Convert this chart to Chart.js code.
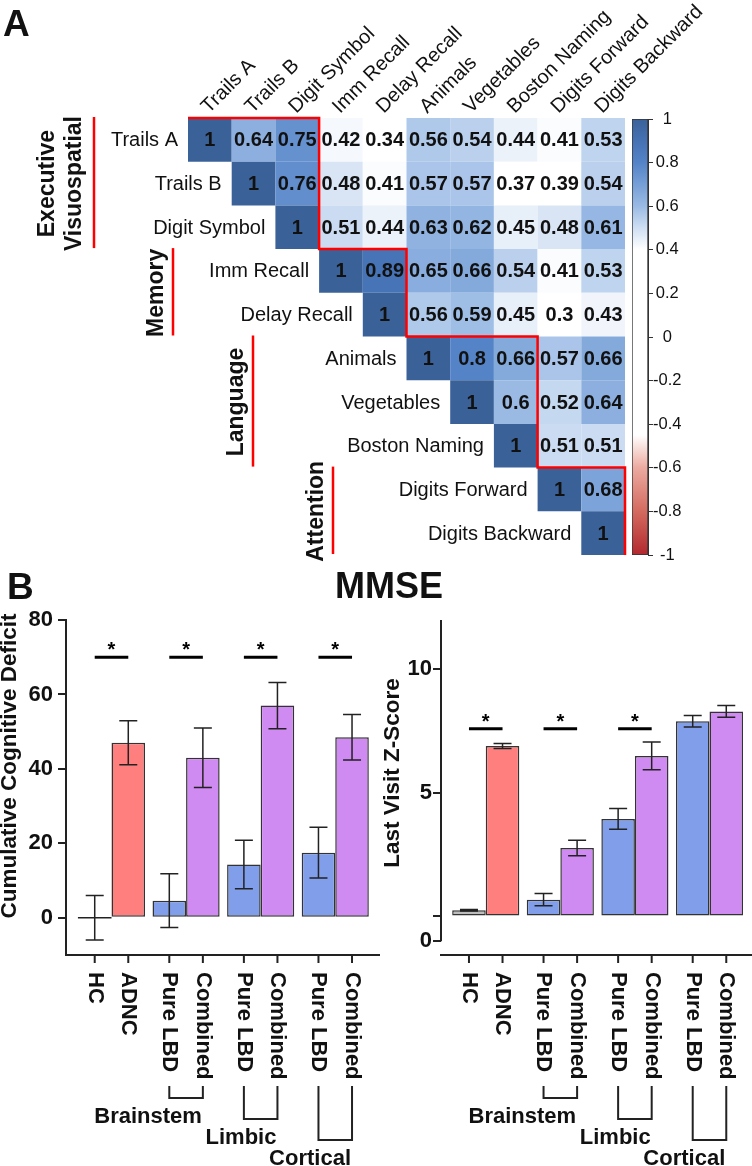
<!DOCTYPE html>
<html>
<head>
<meta charset="utf-8">
<script src="https://cdn.jsdelivr.net/npm/chart.js@4.4.0/dist/chart.umd.min.js"></script>
<style>
  body { margin: 0; background: #fff; }
  #fig { position: relative; width: 752px; height: 1166px; overflow: hidden; font-family: "Liberation Sans", Arial, sans-serif; }
  canvas { position: absolute; }
  .lab { position: absolute; font-weight: bold; line-height: 1; color: #111; white-space: nowrap; }
</style>
</head>
<body>
<div id="fig">
  <canvas id="heat" width="752" height="575" style="left:0;top:0"></canvas>
  <canvas id="cbar" width="126" height="475" style="left:626px;top:100px"></canvas>
  <canvas id="left" width="380" height="566" style="left:0;top:600px"></canvas>
  <canvas id="right" width="376" height="566" style="left:376px;top:600px"></canvas>
  <div class="lab" style="left:3px;top:5px;font-size:37px">A</div>
  <div class="lab" style="left:7px;top:568px;font-size:37px">B</div>
  <div class="lab" style="left:289px;width:200px;text-align:center;top:568px;font-size:36px">MMSE</div>
</div>
<script>
const FONT = '"Liberation Sans", Arial, sans-serif';

// panel A: correlations (upper triangle, each row starts on the diagonal)
const testLabels = ['Trails A', 'Trails B', 'Digit Symbol', 'Imm Recall', 'Delay Recall',
  'Animals', 'Vegetables', 'Boston Naming', 'Digits Forward', 'Digits Backward'];
const corrRows = [
  [1, 0.64, 0.75, 0.42, 0.34, 0.56, 0.54, 0.44, 0.41, 0.53],
  [1, 0.76, 0.48, 0.41, 0.57, 0.57, 0.37, 0.39, 0.54],
  [1, 0.51, 0.44, 0.63, 0.62, 0.45, 0.48, 0.61],
  [1, 0.89, 0.65, 0.66, 0.54, 0.41, 0.53],
  [1, 0.56, 0.59, 0.45, 0.3, 0.43],
  [1, 0.8, 0.66, 0.57, 0.66],
  [1, 0.6, 0.52, 0.64],
  [1, 0.51, 0.51],
  [1, 0.68],
  [1]
];
const domainNames = [['Executive', 'Visuospatial'], ['Memory'], ['Language'], ['Attention']];
const domainBounds = [0, 3, 5, 8, 10];
const colorStops = [[-1, '#B2282E'], [-0.8, '#D46A5F'], [-0.6, '#EBAAA0'], [-0.45, '#FFFFFF'],
  [0.4, '#FFFFFF'], [0.5, '#CFDFF3'], [0.6, '#9ABAE4'], [0.7, '#769FD7'], [0.8, '#5483C7'],
  [0.9, '#4672B4'], [1, '#3A6299']];

// panel B
const barGroups = ['HC / ADNC', 'Brainstem', 'Limbic', 'Cortical'];
const firstLabels = ['HC', 'Pure LBD', 'Pure LBD', 'Pure LBD'];
const secondLabels = ['ADNC', 'Combined', 'Combined', 'Combined'];
const deficitFirst = [0, 4.6, 14.3, 17.5];
const deficitFirstErr = [6, 7.2, 6.5, 6.8];
const deficitSecond = [47, 43, 57, 48.5];
const deficitSecondErr = [5.9, 8, 6.2, 6.1];
const deficitSig = [0, 1, 2, 3];
const deficitTicks = [0, 20, 40, 60, 80];
const zFirst = [0.25, 0.68, 3.95, 7.9];
const zFirstErr = [0.03, 0.25, 0.42, 0.23];
const zSecond = [6.9, 2.77, 6.5, 8.3];
const zSecondErr = [0.1, 0.31, 0.56, 0.24];
const zSig = [0, 1, 2];
const zTicks = [-1, 0, 5, 10];
const zTickLabels = ['0', '', '5', '10'];

function hex(c) { return [1, 3, 5].map(i => parseInt(c.slice(i, i + 2), 16)); }
function colorFor(v) {
  for (let i = 1; i < colorStops.length; i++) {
    const [v0, c0] = colorStops[i - 1], [v1, c1] = colorStops[i];
    if (v <= v1) {
      const t = (v - v0) / (v1 - v0), a = hex(c0), b = hex(c1);
      return 'rgb(' + a.map((x, k) => Math.round(x + (b[k] - x) * t)).join(',') + ')';
    }
  }
  return colorStops[colorStops.length - 1][1];
}

const cells = [];
corrRows.forEach((row, i) => row.forEach((v, k) => cells.push({x: i + k, y: i, v: v})));

const heatDecor = {
  id: 'heatDecor',
  afterDatasetsDraw(chart) {
    const {ctx, scales: {x, y}} = chart;
    const px = k => x.getPixelForValue(k - 0.5);
    const py = k => y.getPixelForValue(k - 0.5);
    ctx.save();
    // cell values
    ctx.fillStyle = '#111';
    ctx.font = 'bold 20px ' + FONT;
    ctx.textAlign = 'center';
    ctx.textBaseline = 'middle';
    chart.getDatasetMeta(0).data.forEach((el, i) => ctx.fillText(String(cells[i].v), el.x, el.y + 1));
    // row labels
    ctx.font = '20px ' + FONT;
    ctx.textAlign = 'right';
    testLabels.forEach((t, i) => ctx.fillText(t, px(i) - 10, y.getPixelForValue(i) + 1));
    // column labels
    ctx.textAlign = 'left';
    ctx.textBaseline = 'alphabetic';
    testLabels.forEach((t, j) => {
      ctx.save();
      ctx.translate(x.getPixelForValue(j) - 1, py(0) - 4);
      ctx.rotate(-Math.PI / 4);
      ctx.fillText(t, 0, 0);
      ctx.restore();
    });
    // red outline of the domain blocks
    ctx.strokeStyle = '#FF0000';
    ctx.lineWidth = 2.5;
    ctx.beginPath();
    ctx.moveTo(px(0), py(0));
    for (let g = 1; g < domainBounds.length; g++) {
      const b = domainBounds[g], a = domainBounds[g - 1];
      ctx.lineTo(px(b), py(a));
      ctx.lineTo(px(b), py(b));
    }
    ctx.stroke();
    // domain labels
    const lineX = [94, 173, 253, 333];
    ctx.font = 'bold 23px ' + FONT;
    ctx.textAlign = 'center';
    ctx.fillStyle = '#111';
    domainNames.forEach((names, g) => {
      const y0 = py(domainBounds[g]), y1 = py(domainBounds[g + 1]);
      ctx.beginPath();
      ctx.moveTo(lineX[g], y0 - 1);
      ctx.lineTo(lineX[g], y1 - 1);
      ctx.stroke();
      ctx.save();
      ctx.translate(lineX[g], (y0 + y1) / 2);
      ctx.rotate(-Math.PI / 2);
      if (names.length === 2) {
        ctx.fillText(names[0], 0, -40);
        ctx.fillText(names[1], 0, -13);
      } else {
        ctx.fillText(names[0], 0, -10);
      }
      ctx.restore();
    });
    ctx.restore();
  }
};

new Chart(document.getElementById('heat'), {
  type: 'scatter',
  data: {datasets: [{data: cells}]},
  options: {
    responsive: false, animation: false, events: [],
    layout: {padding: {left: 188, top: 118, right: 127, bottom: 20}},
    elements: {point: {
      pointStyle: 'rect', borderWidth: 0,
      radius: c => (c.chart.scales.x.getPixelForValue(1) - c.chart.scales.x.getPixelForValue(0)) / Math.SQRT2,
      backgroundColor: c => colorFor(c.raw ? c.raw.v : 0)
    }},
    plugins: {legend: {display: false}, tooltip: {enabled: false}},
    scales: {
      x: {type: 'linear', min: -0.5, max: 9.5, display: false},
      y: {type: 'linear', min: -0.5, max: 9.5, reverse: true, display: false}
    }
  },
  plugins: [heatDecor]
});

new Chart(document.getElementById('cbar'), {
  type: 'bar',
  data: {
    labels: ['r'],
    datasets: [{
      data: [[-1, 1]],
      backgroundColor: c => {
        const ch = c.chart;
        if (!ch.chartArea) return '#fff';
        const y = ch.scales.y;
        const g = ch.ctx.createLinearGradient(0, y.getPixelForValue(-1), 0, y.getPixelForValue(1));
        colorStops.forEach(([v, col]) => g.addColorStop((v + 1) / 2, col));
        return g;
      },
      borderColor: '#333', borderWidth: 1, borderSkipped: false,
      barPercentage: 1, categoryPercentage: 1
    }]
  },
  options: {
    responsive: false, animation: false, events: [],
    layout: {padding: {left: 6, top: 19, bottom: 20}},
    plugins: {legend: {display: false}, tooltip: {enabled: false}},
    scales: {
      x: {display: false},
      y: {
        position: 'right', min: -1, max: 1,
        afterFit: s => { s.width = 104; },
        ticks: {stepSize: 0.2, padding: 0, crossAlign: 'center', color: '#111',
          font: {family: FONT, size: 16.5},
          callback: v => String(+v.toFixed(1))},
        grid: {drawOnChartArea: false, tickLength: 5, color: '#333'},
        border: {display: true, color: '#333'}
      }
    }
  }
});

function makeDecor(o) {
  return {
    id: 'barDecor',
    afterDatasetsDraw(chart) {
      const {ctx, scales: {y}} = chart;
      const metas = [chart.getDatasetMeta(0), chart.getDatasetMeta(1)];
      const vals = [o.first, o.second], errs = [o.firstErr, o.secondErr];
      ctx.save();
      ctx.strokeStyle = '#222';
      ctx.lineWidth = 1.5;
      metas.forEach((m, d) => m.data.forEach((el, i) => {
        const v = vals[d][i], e = errs[d][i];
        const t = y.getPixelForValue(v + e), b = y.getPixelForValue(v - e);
        ctx.beginPath();
        ctx.moveTo(el.x, t); ctx.lineTo(el.x, b);
        ctx.moveTo(el.x - 9, t); ctx.lineTo(el.x + 9, t);
        ctx.moveTo(el.x - 9, b); ctx.lineTo(el.x + 9, b);
        if (v === 0) { ctx.moveTo(el.x - el.width / 2, el.y); ctx.lineTo(el.x + el.width / 2, el.y); }
        ctx.stroke();
      }));
      ctx.strokeStyle = '#000';
      ctx.fillStyle = '#000';
      ctx.lineWidth = 3;
      ctx.font = 'bold 20px ' + FONT;
      ctx.textAlign = 'center';
      ctx.textBaseline = 'alphabetic';
      o.sig.forEach(g => {
        const x0 = metas[0].data[g].x, x1 = metas[1].data[g].x, yy = y.getPixelForValue(o.sigY);
        ctx.beginPath();
        ctx.moveTo(x0, yy); ctx.lineTo(x1, yy);
        ctx.stroke();
        ctx.fillText('*', (x0 + x1) / 2, yy - 1);
      });
      ctx.restore();
    },
    afterDraw(chart) {
      const {ctx, chartArea: a, scales: {y}} = chart;
      const metas = [chart.getDatasetMeta(0), chart.getDatasetMeta(1)];
      const names = [firstLabels, secondLabels];
      ctx.save();
      ctx.strokeStyle = '#222';
      ctx.fillStyle = '#111';
      ctx.lineWidth = 2;
      if (o.axisTo !== undefined) {
        ctx.beginPath();
        ctx.moveTo(a.left, a.top);
        ctx.lineTo(a.left, y.getPixelForValue(o.axisTo));
        ctx.stroke();
      }
      ctx.font = 'bold 22px ' + FONT;
      metas.forEach((m, d) => m.data.forEach((el, i) => {
        ctx.beginPath();
        ctx.moveTo(el.x, a.bottom); ctx.lineTo(el.x, a.bottom + 8);
        ctx.stroke();
        ctx.save();
        ctx.translate(el.x, a.bottom + 17);
        ctx.rotate(Math.PI / 2);
        ctx.textAlign = 'left';
        ctx.textBaseline = 'middle';
        ctx.fillText(names[d][i], 0, 0);
        ctx.restore();
      }));
      // region brackets
      const drop = [0, 143, 164, 185];
      ctx.textAlign = 'right';
      ctx.textBaseline = 'middle';
      for (let g = 1; g < barGroups.length; g++) {
        const x0 = metas[0].data[g].x, x1 = metas[1].data[g].x;
        const top = a.bottom + 131, bot = a.bottom + drop[g];
        ctx.beginPath();
        ctx.moveTo(x0, top); ctx.lineTo(x0, bot); ctx.lineTo(x1, bot); ctx.lineTo(x1, top);
        ctx.stroke();
        ctx.fillText(barGroups[g], x1 - 1, bot + 19);
      }
      // y title
      ctx.font = 'bold 22.5px ' + FONT;
      ctx.textAlign = 'center';
      ctx.textBaseline = 'alphabetic';
      ctx.translate(o.titleX, o.titleY);
      ctx.rotate(-Math.PI / 2);
      ctx.fillText(o.title, 0, 0);
      ctx.restore();
    }
  };
}

function barChart(id, o) {
  const pts = vals => vals.map((v, i) => ({x: i, y: v}));
  return new Chart(document.getElementById(id), {
    type: 'bar',
    data: {
      datasets: [
        {data: pts(o.first), backgroundColor: o.firstColors, borderColor: '#333', borderWidth: 1.5, borderSkipped: false},
        {data: pts(o.second), backgroundColor: o.secondColors, borderColor: '#333', borderWidth: 1.5, borderSkipped: false}
      ]
    },
    options: {
      responsive: false, animation: false, events: [],
      layout: {padding: {top: 20}},
      datasets: {bar: {barPercentage: 1, categoryPercentage: 0.9}},
      plugins: {legend: {display: false}, tooltip: {enabled: false}},
      scales: {
        x: {
          type: 'linear', min: o.xMin, max: o.xMax, offset: false,
          afterBuildTicks: s => { s.ticks = barGroups.map((g, i) => ({value: i})); },
          afterFit: s => { s.height = 211; },
          ticks: {display: false},
          grid: {display: false},
          border: {display: true, color: '#222', width: 2}
        },
        y: {
          min: o.yMin, max: o.yMax,
          afterBuildTicks: s => { s.ticks = o.ticks.map(v => ({value: v})); },
          afterFit: s => { s.width = o.yWidth; },
          ticks: {font: {family: FONT, size: 22, weight: 'bold'}, color: '#111', padding: o.tickPad,
            callback: o.tickLabel},
          grid: {drawOnChartArea: false, drawTicks: true, tickLength: 8, color: '#222', lineWidth: 2},
          border: {display: o.axisTo === undefined, color: '#222', width: 2}
        }
      }
    },
    plugins: [makeDecor(o)]
  });
}

const BLUE = '#809EEA', PURPLE = '#D08BF2', RED = '#FF7F7F', GRAY = '#BDBDBD';

barChart('left', {
  first: deficitFirst, firstErr: deficitFirstErr, second: deficitSecond, secondErr: deficitSecondErr,
  firstColors: [GRAY, BLUE, BLUE, BLUE], secondColors: [RED, PURPLE, PURPLE, PURPLE],
  sig: deficitSig, sigY: 70, ticks: deficitTicks, tickLabel: v => v,
  xMin: -0.61, xMax: 3.6, yMin: -10, yMax: 80, yWidth: 66, tickPad: 5,
  title: 'Cumulative Cognitive Deficit', titleX: 16, titleY: 166
});

barChart('right', {
  first: zFirst, firstErr: zFirstErr, second: zSecond, secondErr: zSecondErr,
  firstColors: [GRAY, BLUE, BLUE, BLUE], secondColors: [RED, PURPLE, PURPLE, PURPLE],
  sig: zSig, sigY: 7.6, ticks: zTicks, tickLabel: (v, i) => zTickLabels[i],
  xMin: -0.6, xMax: 3.57, yMin: -1.56, yMax: 12, yWidth: 65, tickPad: 1, axisTo: -1,
  title: 'Last Visit Z-Score', titleX: 23, titleY: 173
});
</script>
</body>
</html>
